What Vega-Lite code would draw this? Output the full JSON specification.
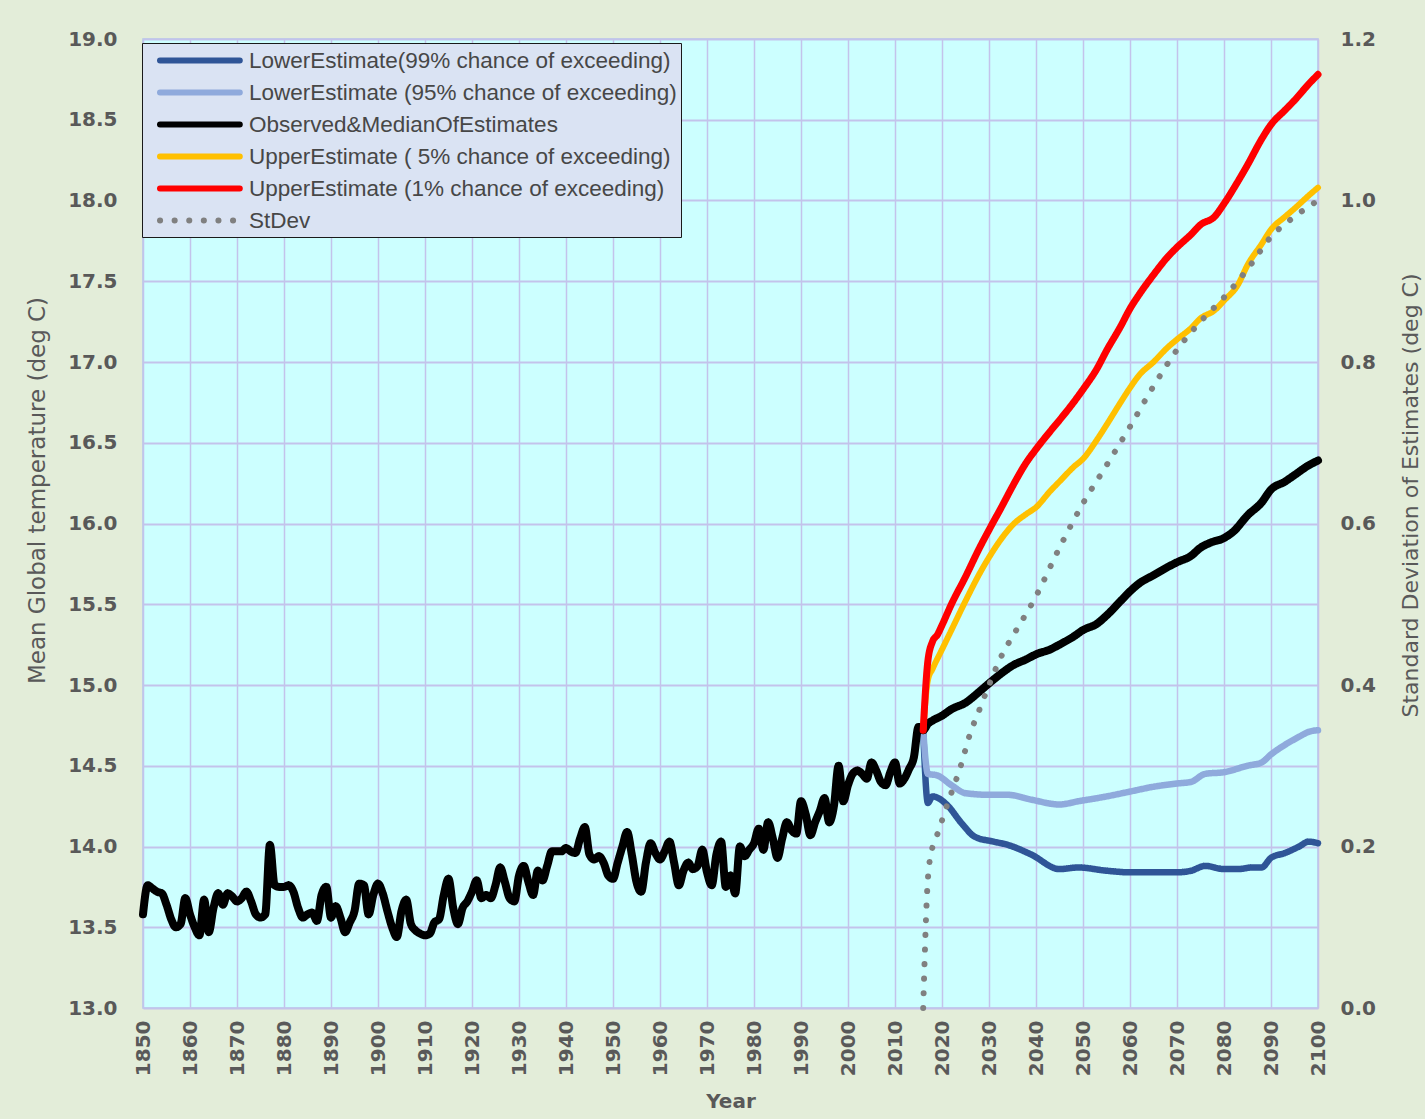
{
  "$schema": "https://vega.github.io/schema/vega-lite/v6.json",
  "autosize": {"type": "none"},
  "padding": {"left": 143, "top": 39, "right": 107, "bottom": 111},
  "width": 1175,
  "height": 969,
  "background": "#e3edd9",
  "config": {
    "view": {"fill": "#ccffff", "stroke": "#b4c7e7", "strokeWidth": 1.5},
    "axis": {
      "labelFont": "DejaVu Sans", "labelFontWeight": "bold", "labelFontSize": 20, "labelColor": "#595959",
      "ticks": false, "domain": false, "gridColor": "#c3c3eb",
      "titleFont": "DejaVu Sans", "titleFontSize": 22, "titleFontWeight": "normal", "titleColor": "#595959"
    }
  },
  "data": {"values": [
    {"s":"obs","t":1850,"v":13.58},{"s":"obs","t":1851,"v":13.76},{"s":"obs","t":1852,"v":13.74},{"s":"obs","t":1853,"v":13.72},{"s":"obs","t":1854,"v":13.71},{"s":"obs","t":1855,"v":13.64},{"s":"obs","t":1856,"v":13.55},{"s":"obs","t":1857,"v":13.50},{"s":"obs","t":1858,"v":13.52},{"s":"obs","t":1859,"v":13.68},
    {"s":"obs","t":1860,"v":13.58},{"s":"obs","t":1861,"v":13.50},{"s":"obs","t":1862,"v":13.45},{"s":"obs","t":1863,"v":13.67},{"s":"obs","t":1864,"v":13.47},{"s":"obs","t":1865,"v":13.62},{"s":"obs","t":1866,"v":13.71},{"s":"obs","t":1867,"v":13.64},{"s":"obs","t":1868,"v":13.71},{"s":"obs","t":1869,"v":13.69},
    {"s":"obs","t":1870,"v":13.66},{"s":"obs","t":1871,"v":13.68},{"s":"obs","t":1872,"v":13.72},{"s":"obs","t":1873,"v":13.66},{"s":"obs","t":1874,"v":13.58},{"s":"obs","t":1875,"v":13.56},{"s":"obs","t":1876,"v":13.58},{"s":"obs","t":1877,"v":14.01},{"s":"obs","t":1878,"v":13.76},{"s":"obs","t":1879,"v":13.75},
    {"s":"obs","t":1880,"v":13.75},{"s":"obs","t":1881,"v":13.76},{"s":"obs","t":1882,"v":13.72},{"s":"obs","t":1883,"v":13.62},{"s":"obs","t":1884,"v":13.56},{"s":"obs","t":1885,"v":13.58},{"s":"obs","t":1886,"v":13.59},{"s":"obs","t":1887,"v":13.54},{"s":"obs","t":1888,"v":13.70},{"s":"obs","t":1889,"v":13.75},
    {"s":"obs","t":1890,"v":13.56},{"s":"obs","t":1891,"v":13.63},{"s":"obs","t":1892,"v":13.56},{"s":"obs","t":1893,"v":13.47},{"s":"obs","t":1894,"v":13.53},{"s":"obs","t":1895,"v":13.60},{"s":"obs","t":1896,"v":13.77},{"s":"obs","t":1897,"v":13.76},{"s":"obs","t":1898,"v":13.58},{"s":"obs","t":1899,"v":13.70},
    {"s":"obs","t":1900,"v":13.77},{"s":"obs","t":1901,"v":13.71},{"s":"obs","t":1902,"v":13.60},{"s":"obs","t":1903,"v":13.50},{"s":"obs","t":1904,"v":13.44},{"s":"obs","t":1905,"v":13.60},{"s":"obs","t":1906,"v":13.67},{"s":"obs","t":1907,"v":13.52},{"s":"obs","t":1908,"v":13.48},{"s":"obs","t":1909,"v":13.46},
    {"s":"obs","t":1910,"v":13.45},{"s":"obs","t":1911,"v":13.46},{"s":"obs","t":1912,"v":13.53},{"s":"obs","t":1913,"v":13.55},{"s":"obs","t":1914,"v":13.70},{"s":"obs","t":1915,"v":13.80},{"s":"obs","t":1916,"v":13.62},{"s":"obs","t":1917,"v":13.52},{"s":"obs","t":1918,"v":13.62},{"s":"obs","t":1919,"v":13.66},
    {"s":"obs","t":1920,"v":13.72},{"s":"obs","t":1921,"v":13.79},{"s":"obs","t":1922,"v":13.68},{"s":"obs","t":1923,"v":13.70},{"s":"obs","t":1924,"v":13.68},{"s":"obs","t":1925,"v":13.76},{"s":"obs","t":1926,"v":13.87},{"s":"obs","t":1927,"v":13.78},{"s":"obs","t":1928,"v":13.68},{"s":"obs","t":1929,"v":13.66},
    {"s":"obs","t":1930,"v":13.82},{"s":"obs","t":1931,"v":13.88},{"s":"obs","t":1932,"v":13.78},{"s":"obs","t":1933,"v":13.70},{"s":"obs","t":1934,"v":13.85},{"s":"obs","t":1935,"v":13.79},{"s":"obs","t":1936,"v":13.88},{"s":"obs","t":1937,"v":13.97},{"s":"obs","t":1938,"v":13.97},{"s":"obs","t":1939,"v":13.97},
    {"s":"obs","t":1940,"v":13.99},{"s":"obs","t":1941,"v":13.97},{"s":"obs","t":1942,"v":13.96},{"s":"obs","t":1943,"v":14.05},{"s":"obs","t":1944,"v":14.12},{"s":"obs","t":1945,"v":13.95},{"s":"obs","t":1946,"v":13.92},{"s":"obs","t":1947,"v":13.94},{"s":"obs","t":1948,"v":13.90},{"s":"obs","t":1949,"v":13.82},
    {"s":"obs","t":1950,"v":13.80},{"s":"obs","t":1951,"v":13.90},{"s":"obs","t":1952,"v":14.00},{"s":"obs","t":1953,"v":14.09},{"s":"obs","t":1954,"v":13.95},{"s":"obs","t":1955,"v":13.78},{"s":"obs","t":1956,"v":13.72},{"s":"obs","t":1957,"v":13.90},{"s":"obs","t":1958,"v":14.02},{"s":"obs","t":1959,"v":13.96},
    {"s":"obs","t":1960,"v":13.92},{"s":"obs","t":1961,"v":13.97},{"s":"obs","t":1962,"v":14.03},{"s":"obs","t":1963,"v":13.90},{"s":"obs","t":1964,"v":13.76},{"s":"obs","t":1965,"v":13.85},{"s":"obs","t":1966,"v":13.90},{"s":"obs","t":1967,"v":13.86},{"s":"obs","t":1968,"v":13.88},{"s":"obs","t":1969,"v":13.98},
    {"s":"obs","t":1970,"v":13.84},{"s":"obs","t":1971,"v":13.76},{"s":"obs","t":1972,"v":13.95},{"s":"obs","t":1973,"v":14.03},{"s":"obs","t":1974,"v":13.75},{"s":"obs","t":1975,"v":13.82},{"s":"obs","t":1976,"v":13.71},{"s":"obs","t":1977,"v":14.00},{"s":"obs","t":1978,"v":13.94},{"s":"obs","t":1979,"v":13.98},
    {"s":"obs","t":1980,"v":14.02},{"s":"obs","t":1981,"v":14.11},{"s":"obs","t":1982,"v":13.98},{"s":"obs","t":1983,"v":14.15},{"s":"obs","t":1984,"v":14.05},{"s":"obs","t":1985,"v":13.93},{"s":"obs","t":1986,"v":14.05},{"s":"obs","t":1987,"v":14.15},{"s":"obs","t":1988,"v":14.10},{"s":"obs","t":1989,"v":14.08},
    {"s":"obs","t":1990,"v":14.28},{"s":"obs","t":1991,"v":14.20},{"s":"obs","t":1992,"v":14.07},{"s":"obs","t":1993,"v":14.15},{"s":"obs","t":1994,"v":14.22},{"s":"obs","t":1995,"v":14.30},{"s":"obs","t":1996,"v":14.15},{"s":"obs","t":1997,"v":14.25},{"s":"obs","t":1998,"v":14.50},{"s":"obs","t":1999,"v":14.28},
    {"s":"obs","t":2000,"v":14.38},{"s":"obs","t":2001,"v":14.45},{"s":"obs","t":2002,"v":14.47},{"s":"obs","t":2003,"v":14.45},{"s":"obs","t":2004,"v":14.42},{"s":"obs","t":2005,"v":14.52},{"s":"obs","t":2006,"v":14.47},{"s":"obs","t":2007,"v":14.40},{"s":"obs","t":2008,"v":14.38},{"s":"obs","t":2009,"v":14.46},
    {"s":"obs","t":2010,"v":14.52},{"s":"obs","t":2011,"v":14.39},{"s":"obs","t":2012,"v":14.42},{"s":"obs","t":2013,"v":14.48},{"s":"obs","t":2014,"v":14.55},{"s":"obs","t":2015,"v":14.74},{"s":"obs","t":2016,"v":14.72},
    {"s":"obs","t":2017,"v":14.76},{"s":"obs","t":2018,"v":14.78},{"s":"obs","t":2020,"v":14.81},{"s":"obs","t":2022,"v":14.85},{"s":"obs","t":2025,"v":14.89},{"s":"obs","t":2028,"v":14.96},{"s":"obs","t":2030,"v":15.01},{"s":"obs","t":2033,"v":15.08},{"s":"obs","t":2035,"v":15.12},{"s":"obs","t":2038,"v":15.16},{"s":"obs","t":2040,"v":15.19},{"s":"obs","t":2043,"v":15.22},{"s":"obs","t":2045,"v":15.25},{"s":"obs","t":2048,"v":15.30},{"s":"obs","t":2050,"v":15.34},{"s":"obs","t":2053,"v":15.38},{"s":"obs","t":2055,"v":15.43},{"s":"obs","t":2058,"v":15.52},{"s":"obs","t":2060,"v":15.58},{"s":"obs","t":2062,"v":15.63},{"s":"obs","t":2065,"v":15.68},{"s":"obs","t":2068,"v":15.73},{"s":"obs","t":2070,"v":15.76},{"s":"obs","t":2073,"v":15.80},{"s":"obs","t":2075,"v":15.85},{"s":"obs","t":2077,"v":15.88},{"s":"obs","t":2080,"v":15.91},{"s":"obs","t":2082,"v":15.95},{"s":"obs","t":2085,"v":16.05},{"s":"obs","t":2088,"v":16.13},{"s":"obs","t":2090,"v":16.21},{"s":"obs","t":2093,"v":16.26},{"s":"obs","t":2095,"v":16.30},{"s":"obs","t":2098,"v":16.36},{"s":"obs","t":2100,"v":16.39},
    {"s":"up1","t":2016,"v":14.72},{"s":"up1","t":2017,"v":15.15},{"s":"up1","t":2018,"v":15.27},{"s":"up1","t":2019,"v":15.31},{"s":"up1","t":2020,"v":15.37},{"s":"up1","t":2022,"v":15.50},{"s":"up1","t":2025,"v":15.67},{"s":"up1","t":2028,"v":15.85},{"s":"up1","t":2030,"v":15.96},{"s":"up1","t":2033,"v":16.12},{"s":"up1","t":2035,"v":16.23},{"s":"up1","t":2038,"v":16.38},{"s":"up1","t":2040,"v":16.46},{"s":"up1","t":2043,"v":16.57},{"s":"up1","t":2045,"v":16.64},{"s":"up1","t":2048,"v":16.75},{"s":"up1","t":2050,"v":16.83},{"s":"up1","t":2053,"v":16.96},{"s":"up1","t":2055,"v":17.07},{"s":"up1","t":2058,"v":17.22},{"s":"up1","t":2060,"v":17.33},{"s":"up1","t":2062,"v":17.42},{"s":"up1","t":2065,"v":17.54},{"s":"up1","t":2068,"v":17.65},{"s":"up1","t":2070,"v":17.71},{"s":"up1","t":2073,"v":17.79},{"s":"up1","t":2075,"v":17.85},{"s":"up1","t":2078,"v":17.90},{"s":"up1","t":2080,"v":17.98},{"s":"up1","t":2083,"v":18.12},{"s":"up1","t":2085,"v":18.22},{"s":"up1","t":2088,"v":18.38},{"s":"up1","t":2090,"v":18.47},{"s":"up1","t":2093,"v":18.56},{"s":"up1","t":2095,"v":18.62},{"s":"up1","t":2098,"v":18.72},{"s":"up1","t":2100,"v":18.78},
    {"s":"up5","t":2016,"v":14.72},{"s":"up5","t":2017,"v":15.03},{"s":"up5","t":2018,"v":15.10},{"s":"up5","t":2020,"v":15.22},{"s":"up5","t":2022,"v":15.34},{"s":"up5","t":2025,"v":15.52},{"s":"up5","t":2028,"v":15.69},{"s":"up5","t":2030,"v":15.79},{"s":"up5","t":2033,"v":15.92},{"s":"up5","t":2035,"v":15.99},{"s":"up5","t":2038,"v":16.06},{"s":"up5","t":2040,"v":16.10},{"s":"up5","t":2043,"v":16.20},{"s":"up5","t":2045,"v":16.26},{"s":"up5","t":2048,"v":16.35},{"s":"up5","t":2050,"v":16.40},{"s":"up5","t":2053,"v":16.52},{"s":"up5","t":2055,"v":16.61},{"s":"up5","t":2058,"v":16.75},{"s":"up5","t":2060,"v":16.84},{"s":"up5","t":2062,"v":16.92},{"s":"up5","t":2065,"v":17.00},{"s":"up5","t":2068,"v":17.09},{"s":"up5","t":2070,"v":17.14},{"s":"up5","t":2073,"v":17.21},{"s":"up5","t":2075,"v":17.27},{"s":"up5","t":2078,"v":17.32},{"s":"up5","t":2080,"v":17.38},{"s":"up5","t":2083,"v":17.48},{"s":"up5","t":2085,"v":17.60},{"s":"up5","t":2088,"v":17.73},{"s":"up5","t":2090,"v":17.82},{"s":"up5","t":2093,"v":17.90},{"s":"up5","t":2095,"v":17.95},{"s":"up5","t":2098,"v":18.03},{"s":"up5","t":2100,"v":18.08},
    {"s":"lo95","t":2016,"v":14.72},{"s":"lo95","t":2017,"v":14.45},{"s":"lo95","t":2019,"v":14.44},{"s":"lo95","t":2022,"v":14.38},{"s":"lo95","t":2025,"v":14.33},{"s":"lo95","t":2030,"v":14.32},{"s":"lo95","t":2034,"v":14.32},{"s":"lo95","t":2039,"v":14.29},{"s":"lo95","t":2045,"v":14.26},{"s":"lo95","t":2049,"v":14.28},{"s":"lo95","t":2055,"v":14.31},{"s":"lo95","t":2060,"v":14.34},{"s":"lo95","t":2065,"v":14.37},{"s":"lo95","t":2070,"v":14.39},{"s":"lo95","t":2073,"v":14.40},{"s":"lo95","t":2076,"v":14.45},{"s":"lo95","t":2080,"v":14.46},{"s":"lo95","t":2085,"v":14.50},{"s":"lo95","t":2088,"v":14.52},{"s":"lo95","t":2090,"v":14.57},{"s":"lo95","t":2093,"v":14.63},{"s":"lo95","t":2096,"v":14.68},{"s":"lo95","t":2098,"v":14.71},{"s":"lo95","t":2100,"v":14.72},
    {"s":"lo99","t":2016,"v":14.72},{"s":"lo99","t":2017,"v":14.27},{"s":"lo99","t":2018,"v":14.31},{"s":"lo99","t":2021,"v":14.26},{"s":"lo99","t":2024,"v":14.15},{"s":"lo99","t":2027,"v":14.06},{"s":"lo99","t":2031,"v":14.03},{"s":"lo99","t":2034,"v":14.01},{"s":"lo99","t":2039,"v":13.95},{"s":"lo99","t":2045,"v":13.86},{"s":"lo99","t":2049,"v":13.87},{"s":"lo99","t":2055,"v":13.85},{"s":"lo99","t":2060,"v":13.84},{"s":"lo99","t":2065,"v":13.84},{"s":"lo99","t":2070,"v":13.84},{"s":"lo99","t":2073,"v":13.85},{"s":"lo99","t":2076,"v":13.88},{"s":"lo99","t":2080,"v":13.86},{"s":"lo99","t":2083,"v":13.86},{"s":"lo99","t":2086,"v":13.87},{"s":"lo99","t":2088,"v":13.87},{"s":"lo99","t":2090,"v":13.93},{"s":"lo99","t":2093,"v":13.96},{"s":"lo99","t":2096,"v":14.00},{"s":"lo99","t":2098,"v":14.03},{"s":"lo99","t":2100,"v":14.02},
    {"s":"sd","t":2016,"v":0.0},{"s":"sd","t":2017,"v":0.16},{"s":"sd","t":2018,"v":0.20},{"s":"sd","t":2019,"v":0.215},{"s":"sd","t":2021,"v":0.25},{"s":"sd","t":2024,"v":0.30},{"s":"sd","t":2026,"v":0.34},{"s":"sd","t":2028,"v":0.37},{"s":"sd","t":2030,"v":0.40},{"s":"sd","t":2033,"v":0.44},{"s":"sd","t":2035,"v":0.46},{"s":"sd","t":2040,"v":0.51},{"s":"sd","t":2045,"v":0.57},{"s":"sd","t":2050,"v":0.625},{"s":"sd","t":2055,"v":0.672},{"s":"sd","t":2060,"v":0.72},{"s":"sd","t":2065,"v":0.77},{"s":"sd","t":2070,"v":0.815},{"s":"sd","t":2075,"v":0.85},{"s":"sd","t":2080,"v":0.88},{"s":"sd","t":2085,"v":0.915},{"s":"sd","t":2090,"v":0.955},{"s":"sd","t":2095,"v":0.98},{"s":"sd","t":2100,"v":1.0}
  ]},
  "encoding": {
    "x": {"field": "t", "type": "quantitative", "scale": {"domain": [1850, 2100], "nice": false, "zero": false},
      "axis": {"values": [1850,1860,1870,1880,1890,1900,1910,1920,1930,1940,1950,1960,1970,1980,1990,2000,2010,2020,2030,2040,2050,2060,2070,2080,2090,2100],
        "format": "d", "labelAngle": 270, "labelPadding": 12, "gridWidth": 1.5, "title": "Year", "titleFontWeight": "bold", "titleFontSize": 20, "titlePadding": 16}},
    "color": {"field": "s", "type": "nominal",
      "scale": {"domain": ["lo99","lo95","obs","up5","up1","sd"], "range": ["#2f5597","#8faadc","#000000","#ffc000","#ff0000","#808080"]},
      "legend": {"title": null, "orient": "none", "legendX": -1, "legendY": 4, "padding": 4,
        "fillColor": "#dae3f3", "strokeColor": "#1a1a1a",
        "symbolType": "M-1,0H6.6", "symbolSize": 441, "symbolStrokeWidth": 6, "symbolOffset": 11,
        "labelOffset": 65, "labelFont": "Liberation Sans", "labelFontSize": 22.5, "labelColor": "#474747", "labelLimit": 700,
        "rowPadding": 6,
        "labelExpr": "datum.value==='lo99'?'LowerEstimate(99% chance of exceeding)':datum.value==='lo95'?'LowerEstimate (95% chance of exceeding)':datum.value==='obs'?'Observed&MedianOfEstimates':datum.value==='up5'?'UpperEstimate ( 5% chance of exceeding)':datum.value==='up1'?'UpperEstimate (1% chance of exceeding)':'StDev'",
        "encoding": {"symbols": {"strokeCap": {"value": "round"}}}}},
    "strokeDash": {"field": "s", "type": "nominal",
      "scale": {"domain": ["lo99","lo95","obs","up5","up1","sd"], "range": [[1,0],[1,0],[1,0],[1,0],[1,0],[0.1,14.5]]}}
  },
  "layer": [
    {
      "encoding": {
        "y": {"field": "v", "type": "quantitative", "scale": {"domain": [13, 19], "nice": false, "zero": false},
          "axis": {"orient": "left", "values": [13,13.5,14,14.5,15,15.5,16,16.5,17,17.5,18,18.5,19], "format": ".1f",
            "labelPadding": 26, "gridWidth": 2, "title": "Mean Global temperature (deg C)", "titleFontSize": 23,
            "titleX": -106, "titleY": 451, "titleBaseline": "middle", "titleAngle": 270}}
      },
      "layer": [
        {"transform": [{"filter": "datum.s==='lo99'"}], "mark": {"type": "line", "strokeWidth": 6.5, "strokeCap": "round", "strokeJoin": "round", "interpolate": "monotone"}},
        {"transform": [{"filter": "datum.s==='lo95'"}], "mark": {"type": "line", "strokeWidth": 6.5, "strokeCap": "round", "strokeJoin": "round", "interpolate": "monotone"}},
        {"transform": [{"filter": "datum.s==='obs'"}], "mark": {"type": "line", "strokeWidth": 8, "strokeCap": "round", "strokeJoin": "round", "interpolate": "monotone"}},
        {"transform": [{"filter": "datum.s==='up5'"}], "mark": {"type": "line", "strokeWidth": 6, "strokeCap": "round", "strokeJoin": "round", "interpolate": "monotone"}},
        {"transform": [{"filter": "datum.s==='up1'"}], "mark": {"type": "line", "strokeWidth": 7, "strokeCap": "round", "strokeJoin": "round", "interpolate": "monotone"}}
      ]
    },
    {
      "transform": [{"filter": "datum.s==='sd'"}],
      "mark": {"type": "line", "strokeWidth": 6, "strokeCap": "round", "interpolate": "monotone"},
      "encoding": {
        "y": {"field": "v", "type": "quantitative", "scale": {"domain": [0, 1.2], "nice": false},
          "axis": {"orient": "right", "values": [0,0.2,0.4,0.6,0.8,1.0,1.2], "format": ".1f", "grid": false,
            "labelPadding": 22, "title": "Standard Deviation of Estimates (deg C)",
            "titleX": 92, "titleY": 456, "titleBaseline": "middle", "titleAngle": 270}}
      }
    }
  ],
  "resolve": {"scale": {"y": "independent"}}
}
